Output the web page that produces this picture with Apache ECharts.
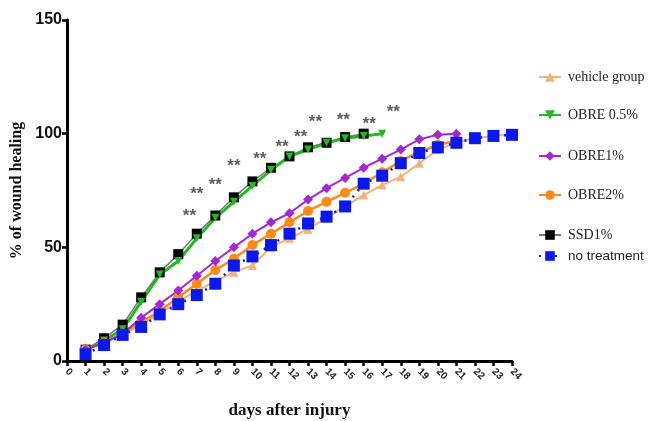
<!DOCTYPE html>
<html>
<head>
<meta charset="utf-8">
<script src="https://cdn.jsdelivr.net/npm/echarts@6/dist/echarts.min.js"></script>
<style>html,body{margin:0;padding:0;background:#fff;}#c{width:649px;height:421px;}</style>
</head>
<body>
<div id="c"></div>
<script>
var vehicleDays = [1,2,3,4,5,6,7,8,9,10,11,12,13,14,15,16,17,18,19,20,21,22,23,24];
var vehicleVals = [6,8,12,16,21,26,31,35,39,42,50,54,58,63,68,73,77.5,81,87,93,96,98,99,100];
var obre05Days = [1,2,3,4,5,6,7,8,9,10,11,12,13,14,15,16,17];
var obre05Vals = [5,9,14,26,38,44,54,63,70,77,84,90,93,96,98,99,100];
var obre1Days = [1,2,3,4,5,6,7,8,9,10,11,12,13,14,15,16,17,18,19,20,21];
var obre1Vals = [5,8,12,19,25,31,37.5,44,50,56,61,65,71,76,80.5,85,89,93,97.5,99.5,100];
var obre2Days = [1,2,3,4,5,6,7,8,9,10,11,12,13,14,15,16,17,18,19,20,21];
var obre2Vals = [5,8,12,17,22,28,34,40,45,51,56,61,66,70,74,78,83,88,92,95,97];
var ssdDays = [1,2,3,4,5,6,7,8,9,10,11,12,13,14,15,16];
var ssdVals = [5,10,16,28,39,47,56,64,72,79,85,90,94,96,98.5,100];
var noTreatDays = [1,2,3,4,5,6,7,8,9,10,11,12,13,14,15,16,17,18,19,20,21,22,23,24];
var noTreatVals = [3,7,11.5,15,20.5,25,29,34,42,46,51,56,60.5,63.5,68,78,81.5,87,91.5,94,96,98,99,99.5];
var starX = [6.6,7.0,8.0,9.0,10.4,11.6,12.6,13.4,14.9,16.3,17.6];
var starY = [66,75.7,79.6,88,91,96,100.7,107.3,108.2,106.5,111.7];
var starText = '**';
var xTicks = [0,24,1];
var yTicks = [0,150,50];

function pairs(d, v){ return d.map(function(x,i){ return [x, v[i]]; }); }

var serif = '"Liberation Serif","Times New Roman",serif';
var sans = '"Liberation Sans",Arial,sans-serif';

var seriesDefs = [
  {name:'vehicle group', d:vehicleDays, v:vehicleVals, color:'#f3b27c', symbol:'triangle', size:9, lw:2, ltype:'solid', lcolor:'#f3b27c'},
  {name:'SSD1%', d:ssdDays, v:ssdVals, color:'#000000', symbol:'rect', size:10, lw:1.5, ltype:'solid', lcolor:'#777'},
  {name:'OBRE 0.5%', d:obre05Days, v:obre05Vals, color:'#21bb21', symbol:'triangle', size:8, lw:3, ltype:'solid', lcolor:'#21bb21', rotate:180},
  {name:'OBRE2%', d:obre2Days, v:obre2Vals, color:'#ff8a18', symbol:'circle', size:10, lw:2.5, ltype:'solid', lcolor:'#ff8a18'},
  {name:'OBRE1%', d:obre1Days, v:obre1Vals, color:'#a526d6', symbol:'diamond', size:10, lw:2, ltype:'solid', lcolor:'#a526d6'},
  {name:'no treatment', d:noTreatDays, v:noTreatVals, color:'#0a18f0', symbol:'rect', size:12, lw:2.5, ltype:[2,6], lcolor:'#0a18f0'}
];

var series = seriesDefs.map(function(s){
  return {
    name:s.name, type:'line', data:pairs(s.d,s.v), symbol:s.symbol, symbolSize:s.size,
    symbolRotate:s.rotate||0,
    itemStyle:{color:s.color}, lineStyle:{color:s.lcolor, width:s.lw, type:s.ltype},
    emphasis:{disabled:true}, animation:false, z:3
  };
});
series.push({
  name:'stars', type:'scatter', data:pairs(starX, starY), symbolSize:0,
  label:{show:true, position:'inside', formatter:starText, fontSize:17, fontWeight:'bold', color:'#333', fontFamily:sans, offset:[0,5]},
  emphasis:{disabled:true}, animation:false, z:5
});

var legendItems = [
  ['vehicle group', 65, serif, 14],
  ['OBRE 0.5%', 103, serif, 14],
  ['OBRE1%', 144, serif, 14],
  ['OBRE2%', 183, serif, 14],
  ['SSD1%', 223, serif, 14],
  ['no treatment', 244, sans, 13.5]
];
var legends = legendItems.map(function(l){
  return {data:[l[0]], left:533, top:l[1], orient:'vertical', itemWidth:22, itemHeight:12, itemGap:0,
    textStyle:{fontFamily:l[2], fontSize:l[3], color:'#222', padding:[0,0,0,2]}, selectedMode:false};
});

var chart = echarts.init(document.getElementById('c'), null, {renderer:'canvas'});
chart.setOption({
  backgroundColor:'#fff',
  animation:false,
  legend:legends,
  grid:{left:67, right:137, top:20, bottom:60, containLabel:false, outerBoundsMode:'none'},
  xAxis:{
    type:'value', min:xTicks[0], max:xTicks[1], interval:xTicks[2],
    name:'days after injury', nameLocation:'middle', nameGap:41,
    nameTextStyle:{fontFamily:serif, fontWeight:'bold', fontSize:17, color:'#111'},
    axisLine:{lineStyle:{color:'#000', width:3}},
    axisTick:{show:true, length:5, lineStyle:{color:'#000', width:2.5}},
    axisLabel:{rotate:-45, fontFamily:sans, fontWeight:'bold', fontSize:10, color:'#222', margin:9},
    splitLine:{show:false}
  },
  yAxis:{
    type:'value', min:yTicks[0], max:yTicks[1], interval:yTicks[2],
    name:'% of wound healing', nameLocation:'middle', nameGap:37, nameRotate:90,
    nameTextStyle:{fontFamily:serif, fontWeight:'bold', fontSize:16, color:'#111'},
    axisLine:{show:true, lineStyle:{color:'#000', width:3}},
    axisTick:{show:true, length:5, lineStyle:{color:'#000', width:2.5}},
    axisLabel:{fontFamily:sans, fontWeight:'bold', fontSize:16, color:'#111', margin:5},
    splitLine:{show:false}
  },
  series:series
});
</script>
</body>
</html>
